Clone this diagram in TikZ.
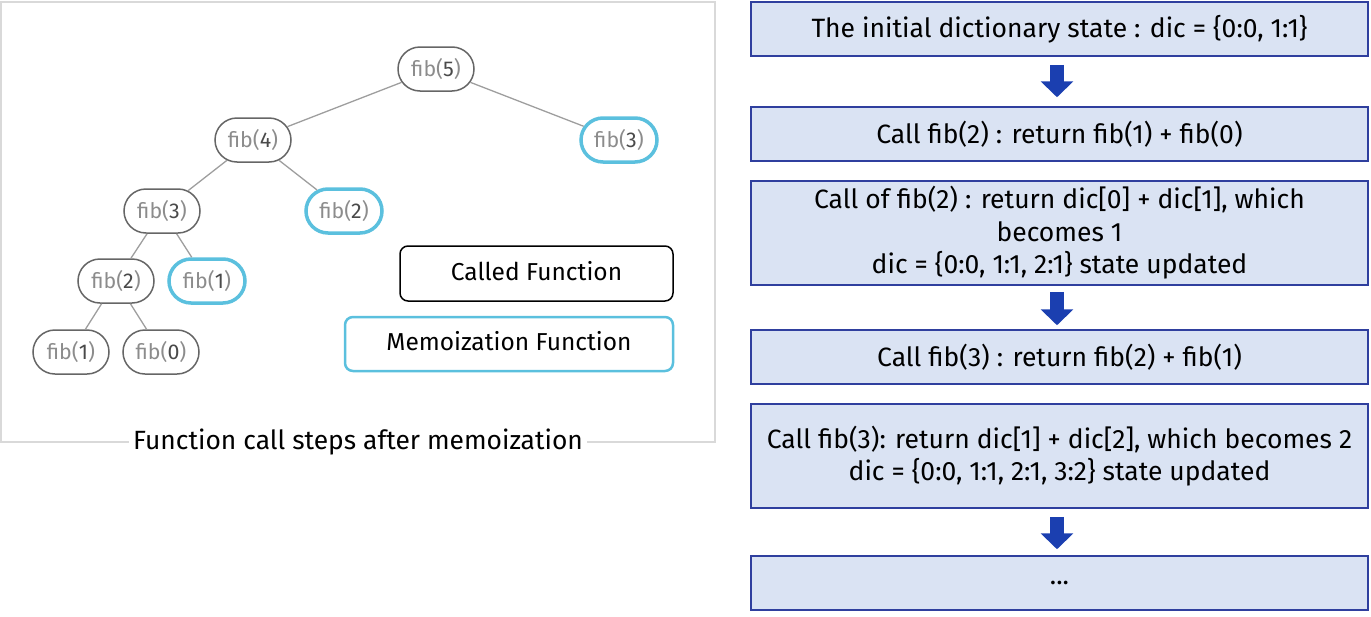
\documentclass[tikz,border=0pt]{standalone}
\usepackage{fontspec}
\setmainfont{Fira Sans}
\usetikzlibrary{arrows.meta,shapes.misc}
\definecolor{memoblue}{HTML}{5BC0DE}
\definecolor{stepfill}{HTML}{DAE3F3}
\definecolor{stepline}{HTML}{2F3F9E}
\definecolor{arrowblue}{HTML}{1B3FB0}
\definecolor{fibgray}{HTML}{8C8C8C}
\definecolor{digitgray}{HTML}{4A4A4A}
\newcommand{\fibtxt}[1]{\textcolor{fibgray}{fib(}\textcolor{digitgray}{#1}\textcolor{fibgray}{)}}
\begin{document}
\begin{tikzpicture}[x=1pt,y=-1pt,
  call/.style={rounded rectangle,draw=black!60,line width=1.5pt,minimum width=76pt,minimum height=44pt,inner sep=0pt,font=\fontsize{21.4}{24}\selectfont},
  memo/.style={call,draw=memoblue,line width=3.5pt},
  tree/.style={draw=black!38,line width=1.3pt},
  stepbox/.style={draw=stepline,fill=stepfill,line width=1.5pt,minimum width=617pt,inner sep=0pt,align=center,font=\fontsize{26.5}{32.5}\selectfont},
  blockarrow/.style={draw=arrowblue,line width=14pt,-{Triangle[width=32pt,length=16pt]}}]
\useasboundingbox (0,0) rectangle (1371,616);
\draw[black!15,line width=1.5pt] (1,2) rectangle (715,442);
\node[fill=white,inner sep=4pt,font=\fontsize{26.4}{30}\selectfont] (caption) at (358,442) {Function call steps after memoization};
\node[call] (f5) at (436,69) {\fibtxt{5}};
\node[call] (f4) at (253,140) {\fibtxt{4}};
\node[memo] (f3m) at (619,140) {\fibtxt{3}};
\node[call] (f3) at (162,211) {\fibtxt{3}};
\node[memo] (f2m) at (344,211) {\fibtxt{2}};
\node[call] (f2) at (116,281) {\fibtxt{2}};
\node[memo] (f1m) at (207,281) {\fibtxt{1}};
\node[call] (f1) at (71,352) {\fibtxt{1}};
\node[call] (f0) at (161,352) {\fibtxt{0}};
\draw[tree] (f5) -- (f4);
\draw[tree] (f5) -- (f3m);
\draw[tree] (f4) -- (f3);
\draw[tree] (f4) -- (f2m);
\draw[tree] (f3) -- (f2);
\draw[tree] (f3) -- (f1m);
\draw[tree] (f2) -- (f1);
\draw[tree] (f2) -- (f0);
\node[draw,rounded corners=8pt,line width=1.5pt,minimum width=273pt,minimum height=55pt] (called) at (536.5,273.5) {};
\node[font=\fontsize{24.5}{28}\selectfont] (calledtxt) at (536.5,271) {Called Function};
\node[draw=memoblue,rounded corners=8pt,line width=2.5pt,minimum width=328pt,minimum height=54pt] (memolegend) at (509,344) {};
\node[font=\fontsize{24.5}{28}\selectfont] (memotxt) at (509,341) {Memoization Function};
\node[stepbox,minimum height=54pt] (s1) at (1059.5,29) {The initial dictionary state : dic = \{0:0, 1:1\}};
\node[stepbox,minimum height=54pt] (s2) at (1059.5,134) {Call fib(2) : return fib(1) + fib(0)};
\node[stepbox,minimum height=104pt] (s3) at (1059.5,233) {Call of fib(2) : return dic[0] + dic[1], which\\becomes 1\\dic = \{0:0, 1:1, 2:1\} state updated};
\node[stepbox,minimum height=54pt] (s4) at (1059.5,357) {Call fib(3) : return fib(2) + fib(1)};
\node[stepbox,minimum height=104pt] (s5) at (1059.5,456) {Call fib(3): return dic[1] + dic[2], which becomes 2\\dic = \{0:0, 1:1, 2:1, 3:2\} state updated};
\node[stepbox,minimum height=54pt] (s6) at (1059.5,583) {...};
\draw[blockarrow] ([xshift=-2.5pt,yshift=-8pt]s1.south) -- ([xshift=-2.5pt,yshift=9pt]s2.north);
\draw[blockarrow] ([xshift=-2.5pt,yshift=-6pt]s3.south) -- ([xshift=-2.5pt,yshift=4pt]s4.north);
\draw[blockarrow] ([xshift=-2.5pt,yshift=-8pt]s5.south) -- ([xshift=-2.5pt,yshift=6pt]s6.north);
\end{tikzpicture}
\end{document}
